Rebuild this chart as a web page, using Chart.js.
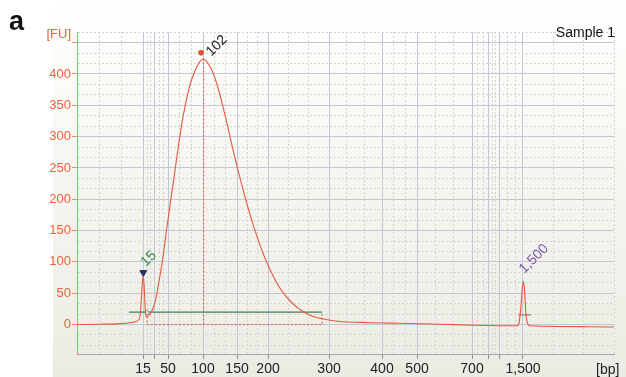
<!DOCTYPE html>
<html>
<head>
<meta charset="utf-8">
<script src="https://cdn.jsdelivr.net/npm/chart.js@4.4.0/dist/chart.umd.min.js"></script>
<style>
  html, body { margin: 0; padding: 0; background: #fff; }
  #wrap { width: 626px; height: 377px; }
</style>
</head>
<body>
<div id="wrap"><canvas id="chart" width="626" height="377"></canvas></div>
<script>
// trace: migration time (s) vs fluorescence (FU)
const migrationTime = [40.00, 43.21, 46.01, 47.40, 48.24, 48.66, 48.87, 49.01, 49.15, 49.26, 49.39, 49.50, 49.64, 49.78, 49.99,
  50.20, 50.47, 50.75, 51.03, 51.31, 51.59, 51.87, 52.15, 52.43, 52.71, 52.99, 53.27, 53.55, 53.83, 54.11, 54.39, 54.66,
  55.08, 55.50, 55.92, 56.34, 56.76, 57.18, 57.68, 58.02, 58.58, 59.13, 59.69, 60.25, 60.81, 61.37, 61.93, 62.49, 63.04,
  63.60, 64.16, 64.72, 65.28, 65.84, 66.40, 66.96, 67.65, 68.35, 69.05, 69.75, 70.45, 71.15, 71.84, 72.54, 73.24, 73.94,
  75.34, 76.73, 79.53, 82.32, 85.11, 90.70, 95.17, 100.47, 101.45, 101.73, 102.01, 102.22, 102.36, 102.50, 102.71, 102.92,
  103.27, 107.46, 111.65, 115.00];
const fluorescence = [0, 0.5, 1.5, 3, 5, 8, 20, 45, 70, 77, 60, 30, 14, 12, 14,
  17, 22, 30, 42, 60, 78, 97, 120, 145, 167, 190, 213, 235, 258, 280, 302, 322,
  348, 370, 388, 401, 412, 420, 424, 421, 412, 398, 378, 354, 328, 300, 272, 246, 222,
  198, 176, 155, 136, 118, 102, 88, 72, 58, 47, 38, 30, 24, 19, 15, 12, 10,
  7, 5, 3.5, 2.5, 2, 0.5, -1, -2, -2, 2, 30, 60, 69, 55, 15, 2,
  -2, -3, -3.5, -4];

// ladder (bp) and where each one sits on the time axis
const ladderBp = [15, 25, 50, 100, 150, 200, 300, 400, 500, 700, 850, 1000, 1500];
const ladderTime = [49.22, 50.89, 52.71, 57.60, 62.35, 66.68, 75.20, 82.60, 87.49, 95.17, 97.54, 98.94, 102.29];
const ladderLabels = ['15', '', '50', '100', '150', '200', '300', '400', '500', '700', '', '', '1,500'];

const yTickValues = [0, 50, 100, 150, 200, 250, 300, 350, 400];

// called peaks
const peakNames = ['15', '102', '1,500'];
const peakTime = [49.26, 57.68, 102.36];
const peakHeight = [77, 424, 69];

// integration region of the 102 bp peak
const regionStart = 49.78;
const regionEnd = 74.22;
const regionLevel = 20;
const greenStart = 47.26;

const timeMin = 40, timeMax = 115;
const fuMin = -47, fuMax = 467;

Chart.defaults.font.family = '"Liberation Sans", Arial, Helvetica, sans-serif';

const isMinor = c => c.tick && c.tick.minor;

const decor = {
  id: 'decor',
  beforeDraw(chart) {
    const { ctx, width, height } = chart;
    ctx.save();
    ctx.fillStyle = '#fff';
    ctx.fillRect(0, 0, width, height);
    const g = ctx.createLinearGradient(0, 0, 0, height);
    g.addColorStop(0, '#ffffff');
    g.addColorStop(0.2, '#fbfbf8');
    g.addColorStop(1, '#ecebe3');
    ctx.fillStyle = g;
    ctx.fillRect(53, 0, width - 53, height);
    ctx.restore();
  },
  afterDraw(chart) {
    const { ctx, scales: { x, y } } = chart;
    ctx.save();
    ctx.textBaseline = 'alphabetic';
    ctx.fillStyle = '#111';
    ctx.font = 'bold 27px "Liberation Sans", Arial, sans-serif';
    ctx.fillText('a', 9, 30);

    ctx.font = '13px "Liberation Sans", Arial, sans-serif';
    ctx.fillStyle = '#f0603f';
    ctx.textAlign = 'right';
    ctx.fillText('[FU]', 71, 38);

    ctx.font = '14px "Liberation Sans", Arial, sans-serif';
    ctx.fillStyle = '#111';
    ctx.fillText('Sample 1', 615, 37);

    ctx.fillStyle = '#222';
    ctx.textAlign = 'left';
    ctx.fillText('[bp]', 596, 374);

    // rotated peak labels
    const colors = ['#2f8a4c', '#1a1a1a', '#7a56aa'];
    const offsets = [[0, -12], [5, -5], [-2, -10]];
    ctx.textBaseline = 'middle';
    peakNames.forEach((name, i) => {
      const px = x.getPixelForValue(peakTime[i]) + offsets[i][0];
      const py = y.getPixelForValue(peakHeight[i]) + offsets[i][1];
      ctx.save();
      ctx.translate(px, py);
      ctx.rotate(-Math.PI / 4);
      ctx.fillStyle = colors[i];
      ctx.font = '14px "Liberation Sans", Arial, sans-serif';
      ctx.fillText(name, 0, 0);
      ctx.restore();
    });
    ctx.restore();
  },
};

new Chart(document.getElementById('chart'), {
  type: 'scatter',
  data: {
    datasets: [
      {
        data: migrationTime.map((t, i) => ({ x: t, y: fluorescence[i] })),
        showLine: true,
        borderColor: '#e5593f',
        borderWidth: 1.1,
        pointRadius: 0,
        cubicInterpolationMode: 'monotone',
      },
      {
        data: [{ x: peakTime[0], y: peakHeight[0] + 6 }],
        pointStyle: 'triangle',
        rotation: 180,
        radius: 4,
        backgroundColor: '#2b2f6b',
        borderColor: '#2b2f6b',
      },
      {
        data: [{ x: peakTime[1] - 0.35, y: peakHeight[1] + 10 }],
        radius: 2.5,
        backgroundColor: '#e0553a',
        borderColor: '#e0553a',
      },
      {
        data: [{ x: regionStart, y: regionLevel - 1 }],
        radius: 2,
        backgroundColor: '#f4f4f0',
        borderColor: '#8a8a8a',
        borderWidth: 1,
      },
      {
        data: [{ x: greenStart, y: regionLevel }, { x: regionEnd, y: regionLevel }],
        showLine: true,
        borderColor: '#3f7d55',
        borderWidth: 1.2,
        pointRadius: 0,
      },
      {
        data: [{ x: peakTime[1], y: 0 }, { x: peakTime[1], y: peakHeight[1] }],
        showLine: true,
        borderColor: '#d95a4a',
        borderWidth: 1,
        borderDash: [2, 2],
        pointRadius: 0,
      },
      {
        data: [{ x: regionStart, y: 13 }, { x: regionStart, y: 0 }, { x: regionEnd, y: 0 }, { x: regionEnd, y: 18 }],
        showLine: true,
        borderColor: '#d95a4a',
        borderWidth: 1,
        borderDash: [2, 2],
        pointRadius: 0,
      },
      {
        data: [{ x: 101.59, y: 15.5 }, { x: 103.41, y: 15.5 }],
        showLine: true,
        borderColor: '#6b7a6b',
        borderWidth: 1,
        pointRadius: 0,
      },
    ],
  },
  options: {
    responsive: false,
    animation: false,
    events: [],
    layout: { padding: { top: 32, right: 12, left: 0, bottom: 0 } },
    plugins: { legend: { display: false }, tooltip: { enabled: false } },
    scales: {
      x: {
        type: 'linear',
        min: timeMin,
        max: timeMax,
        bounds: 'data',
        afterBuildTicks(scale) {
          const stops = [timeMin, ...ladderTime, timeMax];
          const ticks = [];
          for (let i = 0; i < stops.length - 1; i++) {
            const a = stops[i];
            const b = stops[i + 1];
            if (i > 0) ticks.push({ value: a, lbl: ladderLabels[i - 1] });
            ticks.push({ value: a + (b - a) / 3, minor: true, lbl: '' });
            ticks.push({ value: a + 2 * (b - a) / 3, minor: true, lbl: '' });
          }
          ticks.push({ value: timeMax, minor: true, lbl: '' });
          scale.ticks = ticks;
        },
        afterFit(scale) { scale.height = 23; },
        ticks: {
          autoSkip: false,
          maxRotation: 0,
          minRotation: 0,
          padding: 2,
          color: '#222',
          font: { size: 14 },
          callback: (v, i, t) => t[i].lbl,
        },
        grid: {
          color: c => (isMinor(c) ? '#d4d4d4' : '#c3c6d7'),
          tickColor: c => (isMinor(c) ? 'rgba(0,0,0,0)' : '#8d8f9a'),
          tickLength: 5,
          lineWidth: 1,
        },
        border: { color: '#a3a5b0', dash: c => (isMinor(c) ? [2, 2] : []) },
      },
      y: {
        min: fuMin,
        max: fuMax,
        bounds: 'data',
        afterBuildTicks(scale) {
          const ticks = [];
          for (let k = -2; (k * 50) / 3 <= fuMax; k++) {
            const v = (k * 50) / 3;
            const major = k % 3 === 0;
            ticks.push({
              value: v,
              minor: !major,
              mark: major && v >= 0,
              lbl: major && yTickValues.includes(v) ? String(v) : '',
            });
          }
          scale.ticks = ticks;
        },
        afterFit(scale) { scale.width = 77; },
        ticks: {
          autoSkip: false,
          padding: 1,
          color: '#f0603f',
          font: { size: 13 },
          callback: (v, i, t) => t[i].lbl,
        },
        grid: {
          color: c => (isMinor(c) ? '#d4d4d4' : '#c3c6d7'),
          tickColor: c => (c.tick && c.tick.mark ? '#f08a78' : 'rgba(0,0,0,0)'),
          tickLength: 5,
          lineWidth: 1,
        },
        border: { color: '#f08a78', dash: c => (isMinor(c) ? [2, 2] : []) },
      },
    },
  },
  plugins: [decor],
});
</script>
</body>
</html>
